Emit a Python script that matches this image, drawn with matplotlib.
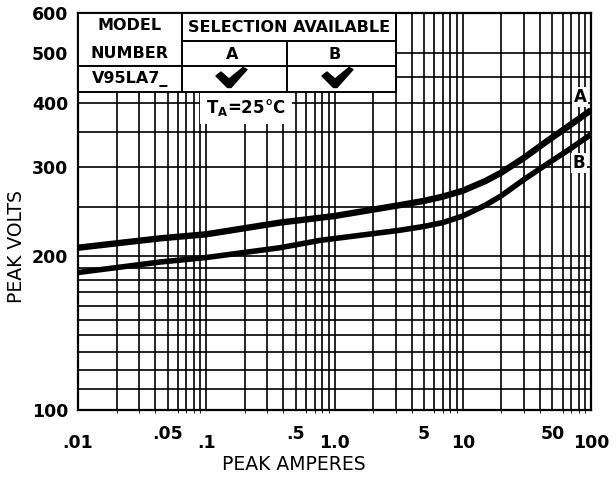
import matplotlib
matplotlib.use("Agg")
import matplotlib.pyplot as plt
from matplotlib.patches import Rectangle, Polygon
from matplotlib.ticker import FixedLocator, LogLocator, NullFormatter

# Peak clamping voltage vs. peak current, V95LA7 varistor, selections A and B
current_a = [0.01, 0.0436, 0.1, 0.376, 1.0, 3.2, 5, 7, 10, 15, 20, 30, 45, 70, 100]
volts_a = [208, 217, 221, 233, 240, 252, 257, 262, 269, 281, 292, 312, 336, 363, 387]
current_b = [0.01, 0.0436, 0.1, 0.376, 0.77, 3.2, 5, 7, 10, 15, 20, 30, 45, 70, 100]
volts_b = [186, 195, 199, 208, 215, 225, 229, 233, 240, 252, 263, 283, 303, 326, 347]

x_decade_ticks = [0.01, 0.1, 1, 10, 100]
x_decade_labels = [".01", ".1", "1.0", "10", "100"]
x_half_ticks = [0.05, 0.5, 5, 50]
x_half_labels = [".05", ".5", "5", "50"]
y_ticks = [100, 200, 300, 400, 500, 600]
y_labels = ["100", "200", "300", "400", "500", "600"]
y_grid = [110, 120, 130, 140, 150, 160, 170, 180, 190, 250, 350, 450]

W, H = 616, 479
fig = plt.figure(figsize=(W / 100, H / 100), dpi=100)
fig.patch.set_facecolor("white")

L, R, T, B = 78, 591, 13, 410
ax = fig.add_axes([L / W, 1 - B / H, (R - L) / W, (B - T) / H])
ax.set_xscale("log")
ax.set_yscale("log")
ax.set_xlim(0.01, 100)
ax.set_ylim(100, 600)

ax.xaxis.set_major_locator(FixedLocator(x_decade_ticks))
ax.set_xticklabels(x_decade_labels)
ax.xaxis.set_minor_locator(LogLocator(base=10, subs=range(2, 10), numticks=20))
ax.xaxis.set_minor_formatter(NullFormatter())
ax.yaxis.set_major_locator(FixedLocator(y_ticks))
ax.set_yticklabels(y_labels)
ax.yaxis.set_minor_locator(FixedLocator(y_grid))
ax.yaxis.set_minor_formatter(NullFormatter())

ax.grid(True, which="both", color="black", linewidth=1.2)
ax.tick_params(which="both", length=0)
ax.tick_params(axis="x", which="major", pad=17, labelsize=12.5)
ax.tick_params(axis="y", which="major", pad=7, labelsize=12.5)
for lab in ax.get_xticklabels() + ax.get_yticklabels():
    lab.set_fontweight("bold")
for s in ax.spines.values():
    s.set_linewidth(1.6)

# half-decade labels sit a little higher than the decade labels
sec = ax.secondary_xaxis("bottom")
sec.xaxis.set_major_locator(FixedLocator(x_half_ticks))
sec.set_xticklabels(x_half_labels)
sec.tick_params(length=0, pad=11, labelsize=12.5)
for lab in sec.get_xticklabels():
    lab.set_fontweight("bold")
sec.spines["bottom"].set_visible(False)

ax.plot(current_a, volts_a, color="black", linewidth=4.6, solid_capstyle="butt",
        solid_joinstyle="round", zorder=5)
ax.plot(current_b, volts_b, color="black", linewidth=4.0, solid_capstyle="butt",
        solid_joinstyle="round", zorder=5)

fig.text(294 / W, 1 - 465 / H, "PEAK AMPERES", ha="center", va="center", fontsize=13.5)
fig.text(17 / W, 1 - 247 / H, "PEAK VOLTS", ha="center", va="center", rotation=90, fontsize=13.5)

# Overlay in pixel coordinates for the selection table and annotations
ov = fig.add_axes([0, 0, 1, 1])
ov.set_xlim(0, W)
ov.set_ylim(H, 0)
ov.axis("off")
ov.patch.set_visible(False)

lw = 1.4
ov.add_patch(Rectangle((L, T), 396 - L, 92 - T, facecolor="white", edgecolor="black", linewidth=lw))
ov.add_patch(Rectangle((200, 92.7), 92, 31, facecolor="white", edgecolor="none"))
ov.plot([182, 182], [T, 92], color="black", linewidth=lw)
ov.plot([287, 287], [41, 92], color="black", linewidth=lw)
ov.plot([182, 396], [41, 41], color="black", linewidth=lw)
ov.plot([L, 396], [66, 66], color="black", linewidth=lw)

tkw = dict(ha="center", va="center", fontweight="bold", fontsize=11.5)
ov.text(130, 25, "MODEL", **tkw)
ov.text(130, 53, "NUMBER", **tkw)
ov.text(289, 27, "SELECTION AVAILABLE", **tkw)
ov.text(232, 54, "A", **tkw)
ov.text(335, 54, "B", **tkw)
ov.text(130, 79, "V95LA7_", **tkw)

# hand-drawn style check marks
check = [(216, 76), (221, 72), (229, 79), (243, 67.5), (247, 69.5), (231, 87.5), (227.5, 87.5)]
for dx in (0, 106):
    ov.add_patch(Polygon([(x + dx, y) for x, y in check], closed=True,
                         facecolor="black", edgecolor="black", linewidth=1, joinstyle="round"))

ov.text(246, 107, "T$_\\mathregular{A}$=25\u00b0C",
        ha="center", va="center", fontsize=12, fontweight="bold")

ov.text(580, 97, "A", ha="center", va="center", fontsize=12, fontweight="bold",
        bbox=dict(facecolor="white", edgecolor="none", pad=1.0))
ov.text(579, 163, "B", ha="center", va="center", fontsize=12, fontweight="bold",
        bbox=dict(facecolor="white", edgecolor="none", pad=1.0))

fig.savefig("out.png", dpi=100)
